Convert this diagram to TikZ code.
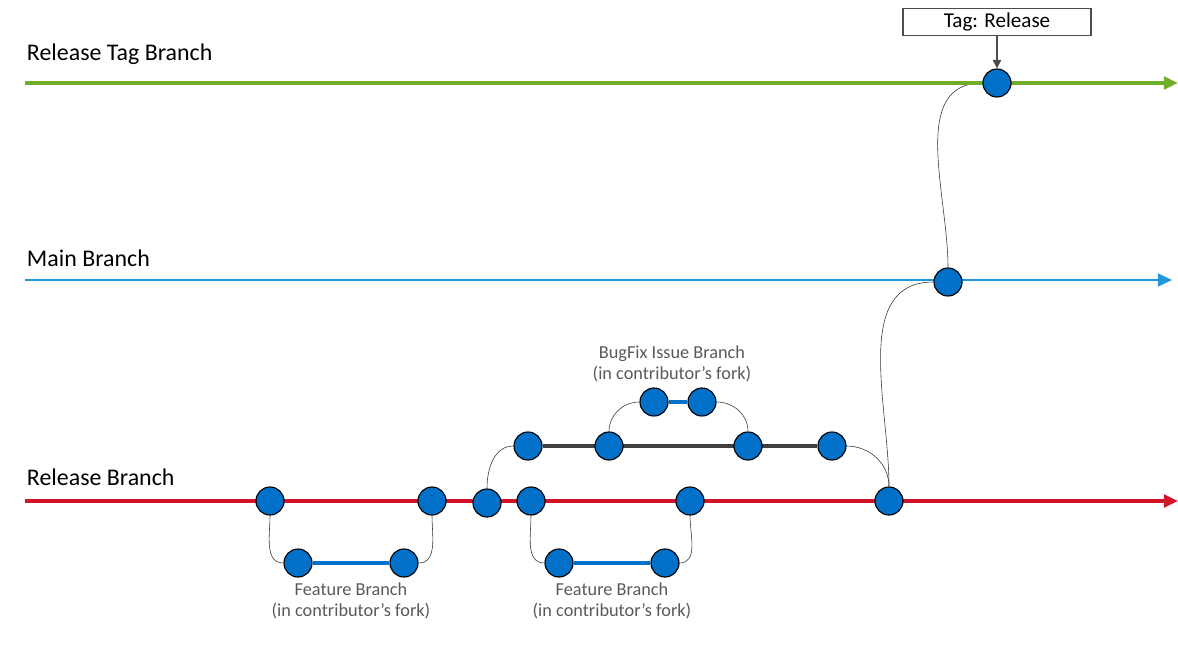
\documentclass[tikz,border=0pt]{standalone}
\usepackage{fontspec}
\setmainfont{Carlito}
\usetikzlibrary{positioning,backgrounds,arrows.meta}
\definecolor{relgreen}{RGB}{112,173,40}
\definecolor{mainblue}{RGB}{30,150,220}
\definecolor{relred}{RGB}{210,20,40}
\definecolor{commitblue}{RGB}{0,112,200}
\tikzset{commit/.style={circle,draw=black,thick,fill=commitblue,minimum size=28\pgflinewidth,inner sep=0pt,minimum size=0.7cm},
	lane/.style={line width=2.2pt,-{Triangle[length=10pt,width=9pt]}},
	side/.style={line width=2.4pt,draw=commitblue},
	link/.style={draw=black!80,thin},
	lanelabel/.style={anchor=west,font=\fontsize{17}{19}\selectfont},
	forklabel/.style={align=center,text=black!65,font=\fontsize{13}{15}\selectfont}}
\begin{document}
\begin{tikzpicture}[x=0.025cm,y=-0.025cm]
	\useasboundingbox (0,0) rectangle (1178,645);
	
	% lanes
	\draw[lane,relgreen] (25,83) -- (1178,83);
	\draw[lane,mainblue,line width=1.8pt] (25,280) -- (1172,280);
	\draw[lane,relred] (25,501) -- (1178,501);
	\node[lanelabel] (tagl) at (22,54) {Release Tag Branch};
	\node[lanelabel] (mainl) at (22,258) {Main Branch};
	\node[lanelabel] (rell) at (22,477) {Release Branch};
	
	% commits on release branch
	\node[commit] (r1) at (270,501) {};
	\node[commit] (r2) at (432,501) {};
	\node[commit] (r3) at (487,503) {};
	\node[commit] (r4) at (531,501) {};
	\node[commit] (r5) at (690,501) {};
	\node[commit] (r6) at (889,501) {};
	% feature branches
	\node[commit] (f1) at (298,563) {};
	\node[commit] (f2) at (404,563) {};
	\node[commit] (g1) at (559,563) {};
	\node[commit] (g2) at (665,563) {};
	% fork branch
	\node[commit] (d1) at (528,446) {};
	\node[commit] (d2) at (609,446) {};
	\node[commit] (d3) at (748,446) {};
	\node[commit] (d4) at (832,446) {};
	\node[commit] (b1) at (654,402) {};
	\node[commit] (b2) at (702,402) {};
	% main and tag
	\node[commit] (m1) at (948,282) {};
	\node[commit] (t1) at (997,83) {};
	\node[draw=black!70,thick,minimum width=4.7cm,minimum height=0.65cm,font=\fontsize{15}{17}\selectfont] (tag) at (997,22) {Tag: Release};
	\draw[-{Triangle[length=6pt,width=6pt]},black!70,thick] (tag) -- (t1);
	
	\begin{scope}[on background layer]
		\draw[side] (f1) -- (f2);
		\draw[side] (g1) -- (g2);
		\draw[side] (b1) -- (b2);
		\draw[line width=2.6pt,black!75] (d1) -- (d4);
		\draw[link] (r1.south) to[out=-90,in=180] (f1.west);
		\draw[link] (f2.east) to[out=0,in=-90] (r2.south);
		\draw[link] (r4.south) to[out=-90,in=180] (g1.west);
		\draw[link] (g2.east) to[out=0,in=-90] (r5.south);
		\draw[link] (r3.north) to[out=90,in=180] (d1.west);
		\draw[link] (d2.north) to[out=90,in=180] (b1.west);
		\draw[link] (b2.east) to[out=0,in=90] (d3.north);
		\draw[link] (d4.east) to[out=0,in=90] (r6.north);
		\draw[link] (r6.north) to[out=90,in=180] (m1.west);
		\draw[link] (m1.north) to[out=90,in=180] (t1.west);
	\end{scope}
	
	\node[forklabel] (fl1) at (351,601) {Feature Branch\\(in contributor’s fork)};
	\node[forklabel] (fl2) at (612,601) {Feature Branch\\(in contributor’s fork)};
	\node[forklabel] (bl) at (672,364) {BugFix Issue Branch\\(in contributor’s fork)};
\end{tikzpicture}
\end{document}
